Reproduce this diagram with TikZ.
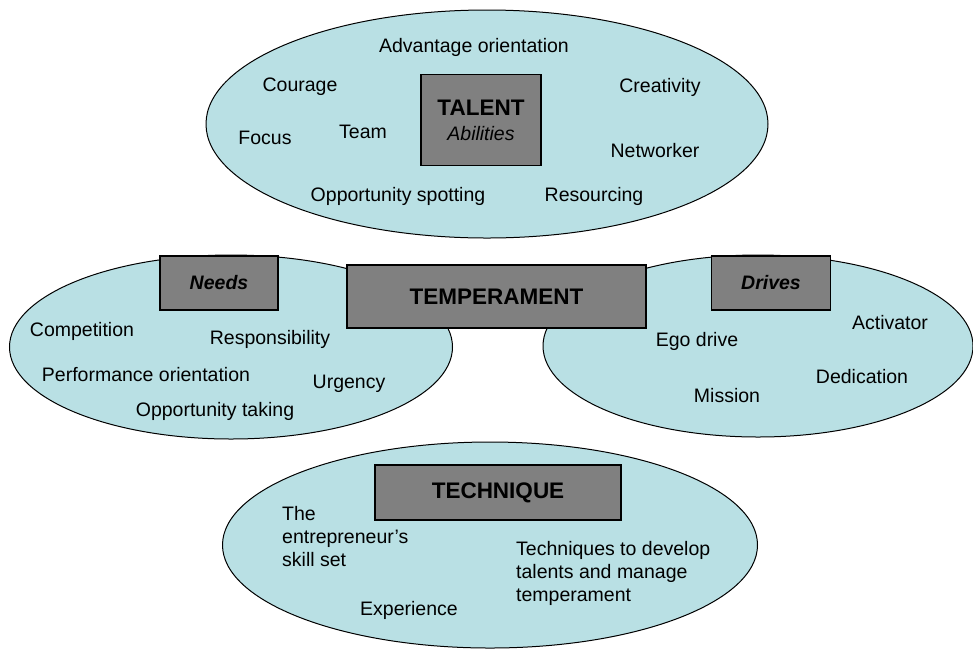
\documentclass[tikz,border=0pt]{standalone}
\usepackage{fontspec}
\setmainfont{Liberation Sans}
\usetikzlibrary{shapes}
\definecolor{zonecyan}{RGB}{185,224,228}
\definecolor{boxgray}{RGB}{128,128,128}

\begin{document}
\begin{tikzpicture}[x=1pt,y=-1pt,
    zone_ellipse/.style ={ellipse, draw=black, line width=1pt, fill=zonecyan, inner sep=0pt},
    block_head/.style ={rectangle, draw=black, line width=1.3pt, fill=boxgray,
      inner sep=0pt, align=center, font=\fontsize{19.5}{25}\selectfont},
    block_trait/.style ={rectangle, draw=none, inner sep=0pt, font=\fontsize{19.5}{23}\selectfont},
    block_multi/.style ={block_trait, align=left, anchor=west}]
    \useasboundingbox (0,0) rectangle (973,649);
    % the four zones, drawn first
    \node [zone_ellipse, minimum width=562pt, minimum height=228pt] (talentzone) at (487,124) {};
    \node [zone_ellipse, minimum width=443pt, minimum height=184pt] (needszone) at (231,347) {};
    \node [zone_ellipse, minimum width=430pt, minimum height=182pt] (driveszone) at (758,346) {};
    \node [zone_ellipse, minimum width=535pt, minimum height=206pt] (techniquezone) at (490,545) {};
    % talent - top ellipse
    \node [block_head, minimum width=120pt, minimum height=91pt] (talent) at (481,120)
      {{\fontsize{22.5}{26}\selectfont\bfseries TALENT}\\ \itshape Abilities};
    \node [block_trait] (advantage) at (474,47) {Advantage orientation};
    \node [block_trait] (courage) at (300,87) {Courage};
    \node [block_trait] (creativity) at (660,87) {Creativity};
    \node [block_trait] (focus) at (265,138) {Focus};
    \node [block_trait] (team) at (363,132) {Team};
    \node [block_trait] (networker) at (655,151) {Networker};
    \node [block_trait] (spotting) at (398,196) {Opportunity spotting};
    \node [block_trait] (resourcing) at (594,196) {Resourcing};
    % needs - left ellipse
    \node [block_head, minimum width=118pt, minimum height=54pt] (needs) at (219,283)
      {\bfseries\itshape Needs};
    \node [block_trait] (competition) at (82,331) {Competition};
    \node [block_trait] (responsibility) at (270,339) {Responsibility};
    \node [block_trait] (performance) at (146,375) {Performance orientation};
    \node [block_trait] (urgency) at (349,384) {Urgency};
    \node [block_trait] (taking) at (215,411) {Opportunity taking};
    % drives - right ellipse
    \node [block_head, minimum width=119pt, minimum height=54pt] (drives) at (771,283)
      {\bfseries\itshape Drives};
    \node [block_trait] (activator) at (890,323) {Activator};
    \node [block_trait] (egodrive) at (697,341) {Ego drive};
    \node [block_trait] (dedication) at (862,377) {Dedication};
    \node [block_trait] (mission) at (727,396) {Mission};
    % temperament - across the two middle ellipses
    \node [block_head, minimum width=299pt, minimum height=63pt] (temperament) at (496.5,296.5)
      {\fontsize{22.5}{26}\selectfont\bfseries TEMPERAMENT};
    % technique - bottom ellipse
    \node [block_head, minimum width=246pt, minimum height=55pt] (technique) at (498,492.5)
      {\fontsize{22.5}{26}\selectfont\bfseries TECHNIQUE};
    \node [block_multi] (skillset) at (282,537) {The\\entrepreneur's\\skill set};
    \node [block_multi] (develop) at (516,573) {Techniques to develop\\talents and manage\\temperament};
    \node [block_trait] (experience) at (409,610) {Experience};
  \end{tikzpicture}
\end{document}
